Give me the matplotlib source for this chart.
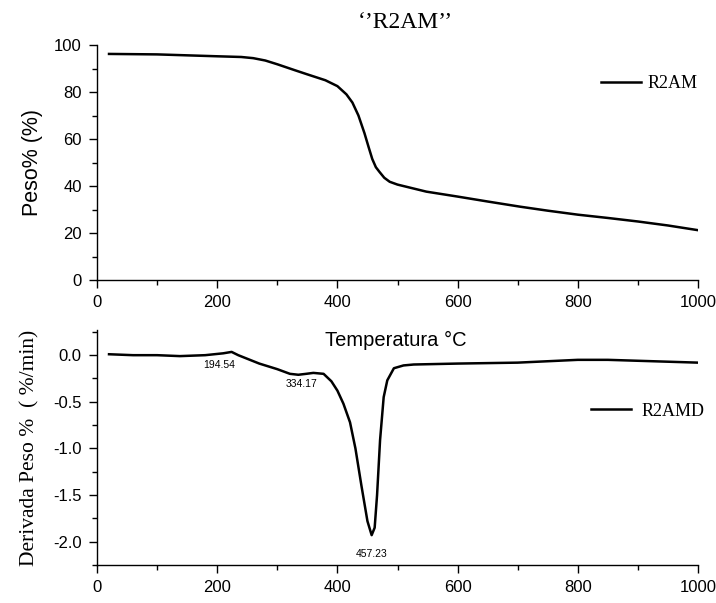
import numpy as np
import matplotlib
matplotlib.use("Agg")
import matplotlib.pyplot as plt
from matplotlib.ticker import MultipleLocator

# TG curve (weight %)
tg_temp = [20, 100, 200, 240, 260, 280, 300, 330, 350, 380, 400, 415, 425, 435, 445,
           452, 458, 464, 470, 478, 487, 500, 548, 600, 650, 704, 750, 800, 850,
           900, 950, 1000]
tg_weight = [96.2, 96.0, 95.2, 94.9, 94.4, 93.4, 91.8, 89.2, 87.5, 85.0, 82.5, 79.0,
             75.5, 70.0, 62.5, 56.5, 51.5, 48.0, 46.0, 43.5, 41.8, 40.6, 37.6, 35.5,
             33.4, 31.2, 29.5, 27.8, 26.4, 24.9, 23.2, 21.2]

# DTG curve (%/min)
dtg_temp = [20, 60, 100, 138, 180, 210, 224, 235, 270, 300, 321, 335, 348, 360, 377,
            390, 400, 410, 421, 430, 440, 450, 457, 462, 466, 471, 477, 483, 494,
            510, 527, 600, 700, 800, 850, 900, 1000]
dtg_rate = [0.01, 0.0, 0.0, -0.01, 0.0, 0.02, 0.035, 0.0, -0.09, -0.15, -0.2, -0.21,
            -0.2, -0.19, -0.2, -0.28, -0.38, -0.52, -0.72, -1.0, -1.4, -1.78, -1.93,
            -1.85, -1.5, -0.91, -0.45, -0.27, -0.14, -0.11, -0.1, -0.09, -0.08, -0.05,
            -0.05, -0.06, -0.08]

peak_temps = [194.54, 334.17, 457.23]
peak_label_pos = [(203, -0.11), (340, -0.31), (457, -2.13)]

fig = plt.figure(figsize=(7.16, 6.03), dpi=100)
ax1 = fig.add_axes([97 / 716, 1 - 280 / 603, 601 / 716, 235 / 603])
ax2 = fig.add_axes([97 / 716, 1 - 565 / 603, 601 / 716, 235 / 603])

for ax in (ax1, ax2):
    ax.spines['top'].set_visible(False)
    ax.spines['right'].set_visible(False)
    ax.spines['left'].set_linewidth(1.0)
    ax.spines['bottom'].set_linewidth(1.0)
    ax.set_xlim(0, 1000)
    ax.xaxis.set_major_locator(MultipleLocator(200))
    ax.xaxis.set_minor_locator(MultipleLocator(100))
    ax.tick_params(which='major', direction='out', length=6, width=1.0,
                   labelsize=12, pad=5)
    ax.tick_params(which='minor', direction='out', length=3.5, width=1.0)
    for lbl in ax.get_xticklabels() + ax.get_yticklabels():
        lbl.set_family('Liberation Sans')

ax1.plot(tg_temp, tg_weight, color='black', linewidth=1.8, label='R2AM')
ax1.set_ylim(0, 100)
ax1.yaxis.set_major_locator(MultipleLocator(20))
ax1.yaxis.set_minor_locator(MultipleLocator(10))
ax1.set_ylabel('Peso% (%)', fontsize=15.5, family='Liberation Sans', labelpad=8)

ax2.plot(dtg_temp, dtg_rate, color='black', linewidth=1.8, label='R2AMD')
ax2.set_ylim(-2.25, 0.27)
ax2.yaxis.set_major_locator(MultipleLocator(0.5))
ax2.yaxis.set_minor_locator(MultipleLocator(0.25))
ax2.yaxis.set_major_formatter(matplotlib.ticker.FormatStrFormatter('%.1f'))
ax2.set_ylabel('Derivada Peso %  ( %/min)', fontsize=15.5, family='Liberation Serif',
               labelpad=10)
for lbl in ax2.get_yticklabels() + ax2.get_xticklabels():
    lbl.set_family('Liberation Sans')

for t, (x, y) in zip(peak_temps, peak_label_pos):
    ax2.text(x, y, '%.2f' % t, fontsize=7.5, family='Liberation Sans',
             ha='center', va='center')

fig.text(396 / 716, 1 - 340 / 603, 'Temperatura °C', fontsize=14.5,
         family='Liberation Sans', ha='center', va='center')
fig.text(405 / 716, 1 - 22 / 603, '\u2018\u2019R2AM\u2019\u2019', fontsize=17,
         family='Liberation Serif', ha='center', va='center')

ax1.legend(loc='center left', bbox_to_anchor=(601 / 716, 1 - 84 / 603),
           bbox_transform=fig.transFigure, frameon=False, borderpad=0,
           borderaxespad=0, handlelength=2.2, handletextpad=0.4,
           prop={'family': 'Liberation Serif', 'size': 13})
ax2.legend(loc='center left', bbox_to_anchor=(591 / 716, 1 - 411 / 603),
           bbox_transform=fig.transFigure, frameon=False, borderpad=0,
           borderaxespad=0, handlelength=2.2, handletextpad=0.6,
           prop={'family': 'Liberation Serif', 'size': 13})

plt.savefig('out.png', dpi=100)
